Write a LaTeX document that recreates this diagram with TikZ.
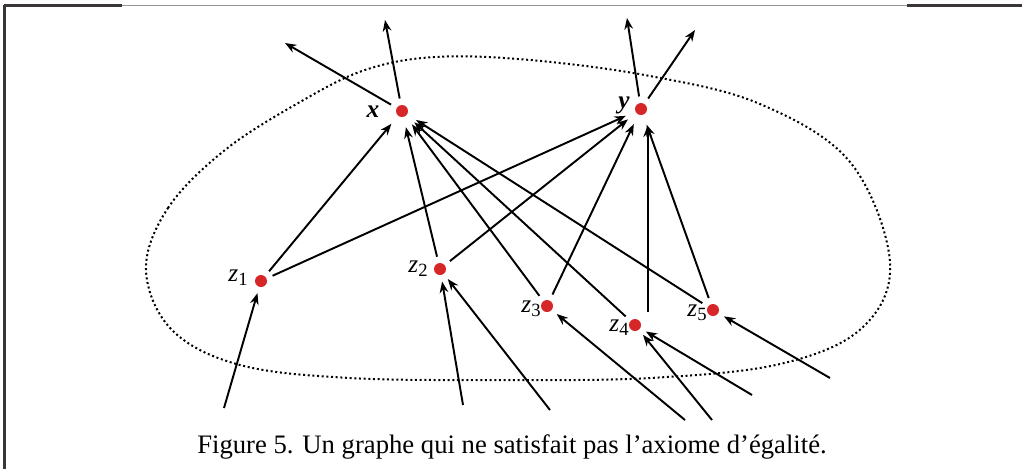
\documentclass[tikz,border=0pt]{standalone}
\usepackage{fontspec}
\setmainfont{Liberation Serif}
\usetikzlibrary{arrows.meta}
\definecolor{dotred}{RGB}{214,38,40}
\definecolor{framegray}{RGB}{150,150,150}
\definecolor{framedark}{RGB}{60,55,55}
\tikzset{
  dot/.style={circle, fill=dotred, inner sep=0pt, minimum size=9pt, outer sep=5pt},
  arr/.style={-{Stealth[length=8.5pt,width=6.5pt]}, line width=1.45pt, black},
  lbl/.style={font=\fontsize{19}{21}\selectfont, inner sep=0pt},
  boundary/.style={line width=1.5pt, dotted, black}
}
\newcommand{\zlab}[1]{\textit{z}\raisebox{-0.35ex}{\fontsize{14}{16}\selectfont #1}}
\begin{document}
\begin{tikzpicture}[x=0.75pt,y=-0.75pt]
\useasboundingbox (0,0) rectangle (1022,469);
% frame
\draw[framegray, line width=1.3pt] (4,5.5) -- (1022,5.5);
\draw[framedark, line width=1.6pt] (4,5.5) -- (122,5.5);
\draw[framedark, line width=1.6pt] (907,5.5) -- (1022,5.5);
\draw[framedark, line width=1.6pt] (4.5,4.8) -- (4.5,469);
% dotted boundary
\draw[boundary] plot[smooth cycle, tension=0.6] coordinates {
 (146,270) (168,208) (225,150) (300,102) (365,70) (435,57) (530,60) (650,76)
 (760,104) (850,162) (890,262) (862,328) (780,364) (650,378) (500,380)
 (350,378) (240,365) (172,330)};
% nodes
\node[dot] (x) at (402,111) {};
\node[dot] (y) at (641,109) {};
\node[dot] (z1) at (261,281) {};
\node[dot] (z2) at (440,269) {};
\node[dot] (z3) at (547,306) {};
\node[dot] (z4) at (635,325) {};
\node[dot] (z5) at (713,310) {};
% labels
\node[lbl] (lx) at (373,112) {\textbf{\textit{x}}};
\node[lbl] (ly) at (624,105) {\textbf{\textit{y}}};
\node[lbl] (lz1) at (238,278) {\zlab{1}};
\node[lbl] (lz2) at (418,269) {\zlab{2}};
\node[lbl] (lz3) at (531,309) {\zlab{3}};
\node[lbl] (lz4) at (619,328) {\zlab{4}};
\node[lbl] (lz5) at (697,313) {\zlab{5}};
% free ends
\coordinate (ox1) at (285,43);
\coordinate (ox2) at (385,20);
\coordinate (oy1) at (627,18);
\coordinate (oy2) at (695,30);
\coordinate (i1) at (224,408);
\coordinate (i2) at (463,405);
\coordinate (i3) at (550,410);
\coordinate (i4) at (685,420);
\coordinate (i5) at (712,420);
\coordinate (i6) at (752,395);
\coordinate (i7) at (830,378);
% edges into x
\foreach \s in {z1,z2,z3,z4,z5} \draw[arr, shorten >=3pt] (\s) -- (x);
% edges into y
\foreach \s in {z1,z2,z3,z5} \draw[arr, shorten >=3pt] (\s) -- (y);
\draw[arr, shorten >=3pt] ([xshift=9.5pt]z4.north) -- ([xshift=5pt]y.south);
% outgoing
\draw[arr] (x) -- (ox1);
\draw[arr] (x) -- (ox2);
\draw[arr] (y) -- (oy1);
\draw[arr] (y) -- (oy2);
% incoming from outside
\draw[arr] (i1) -- (z1);
\draw[arr] (i2) -- (z2);
\draw[arr] (i3) -- (z2);
\draw[arr] (i4) -- (z3);
\draw[arr] (i5) -- (z4);
\draw[arr] (i6) -- (z4);
\draw[arr] (i7) -- (z5);
% caption
\node[font=\fontsize{20}{23}\selectfont, inner sep=0pt] (cap) at (512,447) {Figure 5. Un graphe qui ne satisfait pas l’axiome d’égalité.};
\end{tikzpicture}
\end{document}
